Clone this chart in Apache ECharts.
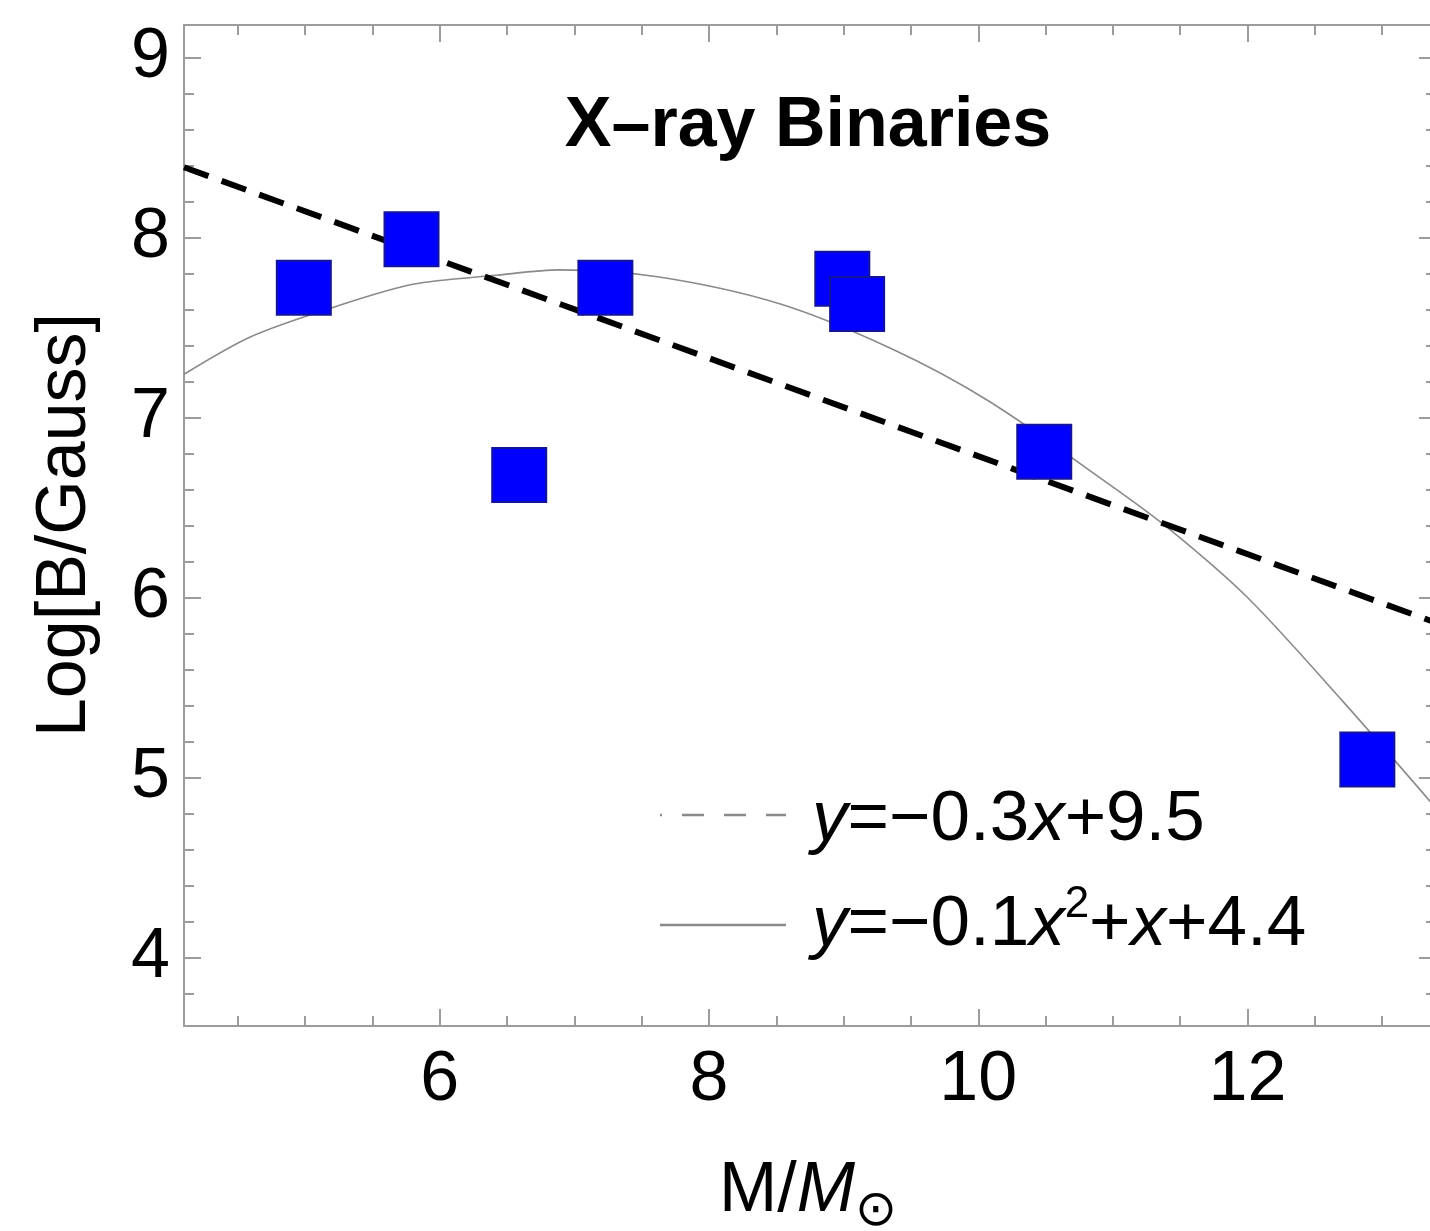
<!DOCTYPE html>
<html>
<head>
<meta charset="utf-8">
<title>X–ray Binaries</title>
<script src="https://cdn.jsdelivr.net/npm/echarts@6/dist/echarts.min.js"></script>
<style>
  html, body { margin: 0; padding: 0; background: #ffffff; overflow: hidden; }
  /* the plot frame runs a few pixels past the right edge of the page */
  #chart { width: 1446px; height: 1231px; }
</style>
</head>
<body>
<div id="chart"></div>
<script>
// Observed binaries: mass (solar masses) vs log field strength
const massValues = [4.99, 5.79, 6.59, 7.23, 8.99, 9.10, 10.49, 12.89];
const logBValues = [7.72, 7.99, 6.68, 7.72, 7.77, 7.63, 6.81, 5.10];

// Linear fit, end points across the plotted range
const linearFitX = [4.1, 13.4];
const linearFitY = [8.39, 5.86];

// Quadratic fit, sampled along the curve
const quadFitX = [4.1, 4.6, 5.2, 5.8, 6.42, 6.89, 7.63, 8.53, 9.36, 10.08, 10.97, 11.42, 12.0, 12.7, 13.4];
const quadFitY = [7.24, 7.45, 7.61, 7.74, 7.79, 7.82, 7.78, 7.63, 7.38, 7.09, 6.63, 6.38, 6.0, 5.43, 4.83];

// Axis ticks
const xMajorTicks = [6, 8, 10, 12];
const xMinorTicks = [4.5, 5, 5.5, 6.5, 7, 7.5, 8.5, 9, 9.5, 10.5, 11, 11.5, 12.5, 13];
const yMajorTicks = [4, 5, 6, 7, 8, 9];
const yMinorTicks = [3.8, 4.2, 4.4, 4.6, 4.8, 5.2, 5.4, 5.6, 5.8, 6.2, 6.4, 6.6, 6.8,
                     7.2, 7.4, 7.6, 7.8, 8.2, 8.4, 8.6, 8.8, 9.0];

const X_MIN = 4.1, X_MAX = 13.4, Y_MIN = 3.62, Y_MAX = 9.18;

const FONT = '"Liberation Sans", Arial, Helvetica, sans-serif';
const FRAME = '#9c9c9c';

function pairs(xs, ys) { return xs.map((x, i) => [x, ys[i]]); }

function xAxisDef(position, ticks, len, showLine, showLabels) {
  return {
    type: 'value', position: position, min: X_MIN, max: X_MAX,
    splitLine: { show: false },
    axisLine: { show: showLine, onZero: false, lineStyle: { color: FRAME, width: 2 } },
    axisTick: { show: true, inside: true, length: len, customValues: ticks,
                lineStyle: { color: FRAME, width: 2 } },
    axisLabel: showLabels
      ? { show: true, customValues: ticks, margin: 20, color: '#000', fontSize: 70, fontFamily: FONT }
      : { show: false }
  };
}
function yAxisDef(position, ticks, len, showLine, showLabels) {
  return {
    type: 'value', position: position, min: Y_MIN, max: Y_MAX,
    splitLine: { show: false },
    axisLine: { show: showLine, onZero: false, lineStyle: { color: FRAME, width: 2 } },
    axisTick: { show: true, inside: true, length: len, customValues: ticks,
                lineStyle: { color: FRAME, width: 2 } },
    axisLabel: showLabels
      ? { show: true, customValues: ticks, margin: 14, color: '#000', fontSize: 70, fontFamily: FONT }
      : { show: false }
  };
}

const chart = echarts.init(document.getElementById('chart'), null, { renderer: 'canvas' });

chart.setOption({
  backgroundColor: '#ffffff',
  animation: false,
  grid: { left: 184, top: 25, width: 1252, height: 1001, containLabel: false },
  xAxis: [
    xAxisDef('bottom', xMajorTicks, 17, true, true),
    xAxisDef('bottom', xMinorTicks, 10, false, false),
    xAxisDef('top', xMajorTicks, 17, true, false),
    xAxisDef('top', xMinorTicks, 10, false, false)
  ],
  yAxis: [
    yAxisDef('left', yMajorTicks, 17, true, true),
    yAxisDef('left', yMinorTicks, 10, false, false),
    yAxisDef('right', yMajorTicks, 17, true, false),
    yAxisDef('right', yMinorTicks, 10, false, false)
  ],
  series: [
    {
      name: 'quadratic', type: 'line', xAxisIndex: 0, yAxisIndex: 0,
      data: pairs(quadFitX, quadFitY), smooth: 0.3, showSymbol: false, clip: true,
      lineStyle: { color: '#8a8a8a', width: 1.6 }, z: 2
    },
    {
      name: 'linear', type: 'line', xAxisIndex: 0, yAxisIndex: 0,
      data: pairs(linearFitX, linearFitY), showSymbol: false, clip: true,
      lineStyle: { color: '#000', width: 6, type: [26, 14] }, z: 3
    },
    {
      name: 'binaries', type: 'scatter', xAxisIndex: 0, yAxisIndex: 0,
      data: pairs(massValues, logBValues), symbol: 'rect', symbolSize: 54,
      itemStyle: { color: '#0000ff', borderColor: '#14149a', borderWidth: 2, opacity: 1 }, z: 4
    }
  ],
  graphic: [
    { type: 'text', x: 808, y: 127, z: 10,
      style: { text: 'X–ray Binaries', font: 'bold 70px ' + FONT, fill: '#000',
               textAlign: 'center', textVerticalAlign: 'middle' } },
    { type: 'text', x: 66, y: 525, rotation: Math.PI / 2, z: 10,
      style: { text: 'Log[B/Gauss]', font: '70px ' + FONT, fill: '#000',
               textAlign: 'center', textVerticalAlign: 'middle' } },
    { type: 'text', x: 808, y: 1192, z: 10,
      style: { text: 'M/{i|M}{sub|⊙}', font: '70px ' + FONT, fill: '#000',
               textAlign: 'center', textVerticalAlign: 'middle',
               rich: { i: { fontStyle: 'italic', fontSize: 70, fontFamily: FONT },
                       sub: { fontSize: 50, fontFamily: '"DejaVu Sans", ' + FONT, padding: [40, 0, 0, 0] } } } },
    // legend samples
    { type: 'line', z: 10, shape: { x1: 660, y1: 815, x2: 786, y2: 815 },
      style: { stroke: '#8a8a8a', lineWidth: 2.5, lineDash: [22, 20], lineDashOffset: 20 } },
    { type: 'line', z: 10, shape: { x1: 660, y1: 925, x2: 786, y2: 925 },
      style: { stroke: '#8a8a8a', lineWidth: 2.5 } },
    { type: 'text', x: 812, y: 820, z: 10,
      style: { text: '{i|y}=−0.3{i|x}+9.5', font: '71px ' + FONT, fill: '#000',
               textAlign: 'left', textVerticalAlign: 'middle',
               rich: { i: { fontStyle: 'italic', fontSize: 71, fontFamily: FONT } } } },
    { type: 'text', x: 812, y: 925, z: 10,
      style: { text: '{i|y}=−0.1{i|x}{sup|2}+{i|x}+4.4', font: '71px ' + FONT, fill: '#000',
               textAlign: 'left', textVerticalAlign: 'middle',
               rich: { i: { fontStyle: 'italic', fontSize: 71, fontFamily: FONT },
                       sup: { fontSize: 44, fontFamily: FONT, padding: [0, 0, 40, 0] } } } }
  ]
});
</script>
</body>
</html>
